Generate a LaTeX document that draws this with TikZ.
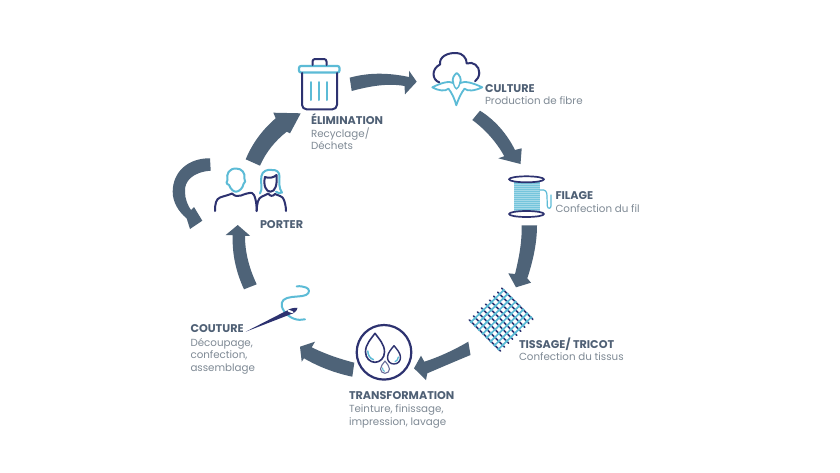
\documentclass[tikz,border=0pt]{standalone}
\usepackage{fontspec}
\setmainfont{Poppins}
\definecolor{arrowc}{HTML}{4E6378}
\definecolor{titlec}{HTML}{4F6075}
\definecolor{subc}{HTML}{7F8A95}
\definecolor{navy}{HTML}{2D3270}
\definecolor{sky}{HTML}{5CBBD6}
\tikzset{
  flow/.style={fill=arrowc,draw=none},
  navyline/.style={draw=navy,line width=2pt,line cap=round,line join=round},
  skyline/.style={draw=sky,line width=2pt,line cap=round,line join=round},
  lab/.style={anchor=base west,inner sep=0pt,outer sep=0pt},
  ttl/.style={lab,text=titlec,font=\fontsize{11.2}{12}\selectfont\bfseries},
  sub/.style={lab,text=subc,font=\fontsize{10.3}{12}\selectfont}
}
\begin{document}
\begin{tikzpicture}[x=1pt,y=-1pt]
\useasboundingbox (0,0) rectangle (840,472);
\fill[white] (0,0) rectangle (840,472);
% arrows
\path[flow] (349.7,77.7) .. controls (370,72) and (390,73) .. (409,77) -- (409,70.7) -- (416.7,81.7) -- (405,94.3) -- (404.5,86) .. controls (388,83) and (370,86) .. (351.7,91) -- cycle;
\path[flow] (480,110.7) .. controls (495,120) and (507,134) .. (515,150) -- (521.7,148.3) -- (520.5,164) -- (498.3,158.3) -- (504.3,156.2) .. controls (497,143) and (486,130) .. (472.3,120) -- cycle;
\path[flow] (521.7,225.3) -- (537,225.3) .. controls (537,243) and (533,261) .. (527.3,278.3) -- (531,282.7) -- (516,287.3) -- (508.3,273.3) -- (515,274) .. controls (519,258) and (522,242) .. (521.7,225.3) -- cycle;
\path[flow] (468.3,341.7) -- (470.5,355) .. controls (456,361) and (442,367) .. (427.3,373.3) -- (426,380) -- (414,368.3) -- (421,355.7) -- (424.3,361.7) .. controls (439,357) and (454,350) .. (468.3,341.7) -- cycle;
\path[flow] (354.3,362.7) -- (352.3,376.7) .. controls (335,373) and (319,367) .. (304,358.3) -- (301.7,361.7) -- (300,346.7) -- (315,341.7) -- (311.7,347.3) .. controls (325,354) and (340,359) .. (354.3,362.7) -- cycle;
\path[flow] (244,289.3) -- (256.7,284.3) .. controls (249,268) and (245,252) .. (245,236) -- (250,235.7) -- (237.7,225) -- (225.7,235) -- (232.7,235) .. controls (232,254) and (236,272) .. (244,289.3) -- cycle;
\path[flow] (210,158.3) -- (210.7,170.7) .. controls (193,172) and (184,181) .. (185,192) .. controls (185,199) and (188,206) .. (191,210) -- (194,207) -- (202.3,220.7) -- (190,229) -- (186.7,218.5) .. controls (178,211) and (172.7,202) .. (172.7,191.7) .. controls (172.7,172) and (188,158) .. (210,158.3) -- cycle;
\path[flow] (245.7,159.3) .. controls (252,144) and (262,130) .. (275.7,118.3) -- (273.3,112.7) -- (300.7,113.3) -- (290,133.3) -- (286.7,131.7) .. controls (275,141) and (266,152) .. (260,165.7) -- cycle;
% trash
\draw[skyline,line width=2.2pt,rounded corners=2pt] (299,72.5) -- (299,66) -- (339.5,66) -- (339.5,72.5) -- cycle;
\draw[navyline,rounded corners=2.5pt] (312.5,65) -- (312.5,59) -- (326.5,59) -- (326.5,65);
\draw[navyline,rounded corners=4.5pt] (302,73) -- (302,109.3) -- (337,109.3) -- (337,73);
\draw[skyline] (310.7,82) -- (310.7,100) (319.3,82) -- (319.3,100) (327.3,82) -- (327.3,100);
% cotton
\draw[navyline] (439.3,82.3) .. controls (432,80) and (431,69) .. (440,64.5) .. controls (439,57) and (447,52.5) .. (456.7,53) .. controls (462,53) and (467,58) .. (466.7,63.5) .. controls (473,61) and (479.5,66) .. (479.3,73) .. controls (479,77) and (477,80) .. (475,81.3);
\draw[skyline,line width=1.8pt] (432.3,87.3) .. controls (441,83) and (449,80.5) .. (453.3,83) .. controls (451.5,79) and (454,75) .. (456.7,73) .. controls (459.5,75) and (462,79) .. (460,83) .. controls (465,80.5) and (473,83) .. (482.3,87.3) .. controls (474,91) and (468,91.5) .. (464.5,88.7) .. controls (461,93) and (458,100) .. (456.3,105.3) .. controls (455,100) and (452,93) .. (448.5,88.7) .. controls (445,91.5) and (439,91) .. (432.3,87.3) -- cycle;
\draw[skyline,line width=1.4pt] (453.3,83) .. controls (454,86) and (455,88) .. (456.5,89) .. controls (458,88) and (459.3,86) .. (460,83);
% spool
\fill[sky!85] (513.5,182) rectangle (540,211);
\foreach \yy in {184,186,...,210} \draw[white,opacity=.35,line width=.5pt] (513.5,\yy) -- (540,\yy);
\draw[navyline,line width=1.7pt] (526.5,179.3) ellipse [x radius=17.5,y radius=3];
\draw[navyline,line width=1.7pt] (526.5,214) ellipse [x radius=17.5,y radius=3];
\draw[skyline,line width=1.2pt] (540,190) .. controls (546,189) and (547,192) .. (547,196) -- (547.3,206) .. controls (547.5,209) and (551,209) .. (551,206) -- (551,195);
% mesh
\foreach \j in {0,...,8}{
  \draw[navy,line width=1.6pt,line cap=round] ({501.7-4.05*\j},{288.3+3.95*\j}) -- ({501.7-4.05*\j+3.9*8},{288.3+3.95*\j+3.9*8});
}
\foreach \i in {0,...,7}{
  \draw[sky,line width=1.7pt,line cap=butt] ({501.7+3.9*(\i+.5)+4.05*.2},{288.3+3.9*(\i+.5)-3.95*.2}) -- ({501.7+3.9*(\i+.5)-4.05*8.2},{288.3+3.9*(\i+.5)+3.95*8.2});
  \foreach \j in {0,...,8}{
    \draw[sky,line width=1.9pt] ({501.7+3.9*\i+1.1-4.05*\j},{288.3+3.9*\i+1.1+3.95*\j}) -- ({501.7+3.9*\i+2.8-4.05*\j},{288.3+3.9*\i+2.8+3.95*\j});
  }
}
% people
\draw[skyline] (236,168.5) .. controls (229,168.5) and (226,174) .. (227.5,180) .. controls (226,181) and (226,184) .. (229,185) .. controls (231,190) and (234,191.7) .. (236,191.7) .. controls (239,191.7) and (243,188) .. (243.5,184) .. controls (245.5,183) and (245.5,180) .. (244.5,179) .. controls (245.5,173) and (242,168.5) .. (236,168.5) -- cycle;
\draw[navyline] (215,211) .. controls (215,204) and (216,199) .. (220,197.5) .. controls (224,196) and (229,195) .. (232,193.5) .. controls (235,196.5) and (238,196.5) .. (241,195.5) .. controls (245,194) and (249,192.5) .. (252,193) .. controls (255,194) and (256.7,203) .. (256.7,211);
\draw[navyline] (256.7,211) .. controls (257,203) and (258,198) .. (262,196.5) .. controls (264,195.5) and (266,195) .. (268.3,193.5) .. controls (270,196.5) and (273,196.5) .. (275,194) .. controls (278,195.5) and (283,196) .. (284,200) .. controls (285,203) and (286,207) .. (286,211);
\draw[navyline] (265,177) .. controls (263,185) and (266,192) .. (270.5,191.7) .. controls (275,191.7) and (277.5,185) .. (276.5,175) .. controls (273,178) and (269,178.5) .. (265,177) -- cycle;
\draw[skyline] (260,193.5) .. controls (263,190) and (260,180) .. (261.5,176) .. controls (262,171) and (268,169) .. (272,170) .. controls (276,169.5) and (280,172) .. (279.5,177) .. controls (279,182) and (279,189) .. (282,192.5) .. controls (280,194) and (277.5,193) .. (276,191.7);
% needle
\draw[skyline] (305,319.3) .. controls (298,321) and (290,319) .. (284,311) .. controls (280,305) and (281,300) .. (287,298) .. controls (293,296) and (302,297) .. (306,295) .. controls (310,293) and (310,289) .. (306,287.5) .. controls (303,286) and (299,286) .. (296.7,286.5);
\path[fill=navy] (245.7,331.7) -- (287,310.5) .. controls (290,308.5) and (294,307.5) .. (297.5,307.8) .. controls (297,311) and (294,313.5) .. (290,314.5) -- cycle;
\fill[white] (290.5,311.5) ellipse [x radius=3.2,y radius=1.1,rotate=-20];
% transformation
\draw[navyline,line width=2.2pt] (384,352.3) circle [radius=27.3];
\draw[navyline,line width=1.6pt] (375,333.3) .. controls (371,339) and (365.5,344) .. (365.5,352) .. controls (365.5,358) and (370,362.3) .. (375,362.3) .. controls (380,362.3) and (384.5,358) .. (384.5,352) .. controls (384.5,344) and (379,339) .. (375,333.3) -- cycle;
\draw[skyline,line width=1.5pt] (367.8,351) .. controls (367.8,355) and (370,358.5) .. (373.5,359.7);
\draw[navyline,line width=1.4pt] (394,345.7) .. controls (391,349.5) and (387.5,353) .. (387.5,357.5) .. controls (387.5,361.5) and (390.5,364) .. (394,364) .. controls (397.5,364) and (400.5,361.5) .. (400.5,357.5) .. controls (400.5,353) and (397,349.5) .. (394,345.7) -- cycle;
\draw[skyline,line width=1.3pt] (398.3,357) .. controls (398.3,359) and (397,361) .. (395,361.7);
\draw[navyline,line width=1.1pt,draw=navy!70] (385,361) .. controls (383,364) and (380.5,366) .. (380.5,369) .. controls (380.5,371.5) and (382.5,373.3) .. (385,373.3) .. controls (387.5,373.3) and (389.5,371.5) .. (389.5,369) .. controls (389.5,366) and (387,364) .. (385,361) -- cycle;
\draw[skyline,line width=1.1pt] (382.5,368) .. controls (382.5,370) and (383.5,371) .. (384.5,371.3);
% labels
\node[ttl] (t1) at (311,124) {ÉLIMINATION};
\node[sub] (s1a) at (311,137) {Recyclage/};
\node[sub] (s1b) at (311,149) {Déchets};
\node[ttl] (t2) at (485,92) {CULTURE};
\node[sub] (s2) at (485,104) {Production de fibre};
\node[ttl] (t3) at (555.5,199) {FILAGE};
\node[sub] (s3) at (555.5,212) {Confection du fil};
\node[ttl] (t4) at (519,348) {TISSAGE/ TRICOT};
\node[sub] (s4) at (519,360) {Confection du tissus};
\node[ttl] (t5) at (349,399) {TRANSFORMATION};
\node[sub] (s5a) at (349,412) {Teinture, finissage,};
\node[sub] (s5b) at (349,425) {impression, lavage};
\node[ttl] (t6) at (190.5,332) {COUTURE};
\node[sub] (s6a) at (190.5,346) {Découpage,};
\node[sub] (s6b) at (190.5,358) {confection,};
\node[sub] (s6c) at (190.5,371) {assemblage};
\node[ttl] (t7) at (260,228) {PORTER};
\end{tikzpicture}
\end{document}
